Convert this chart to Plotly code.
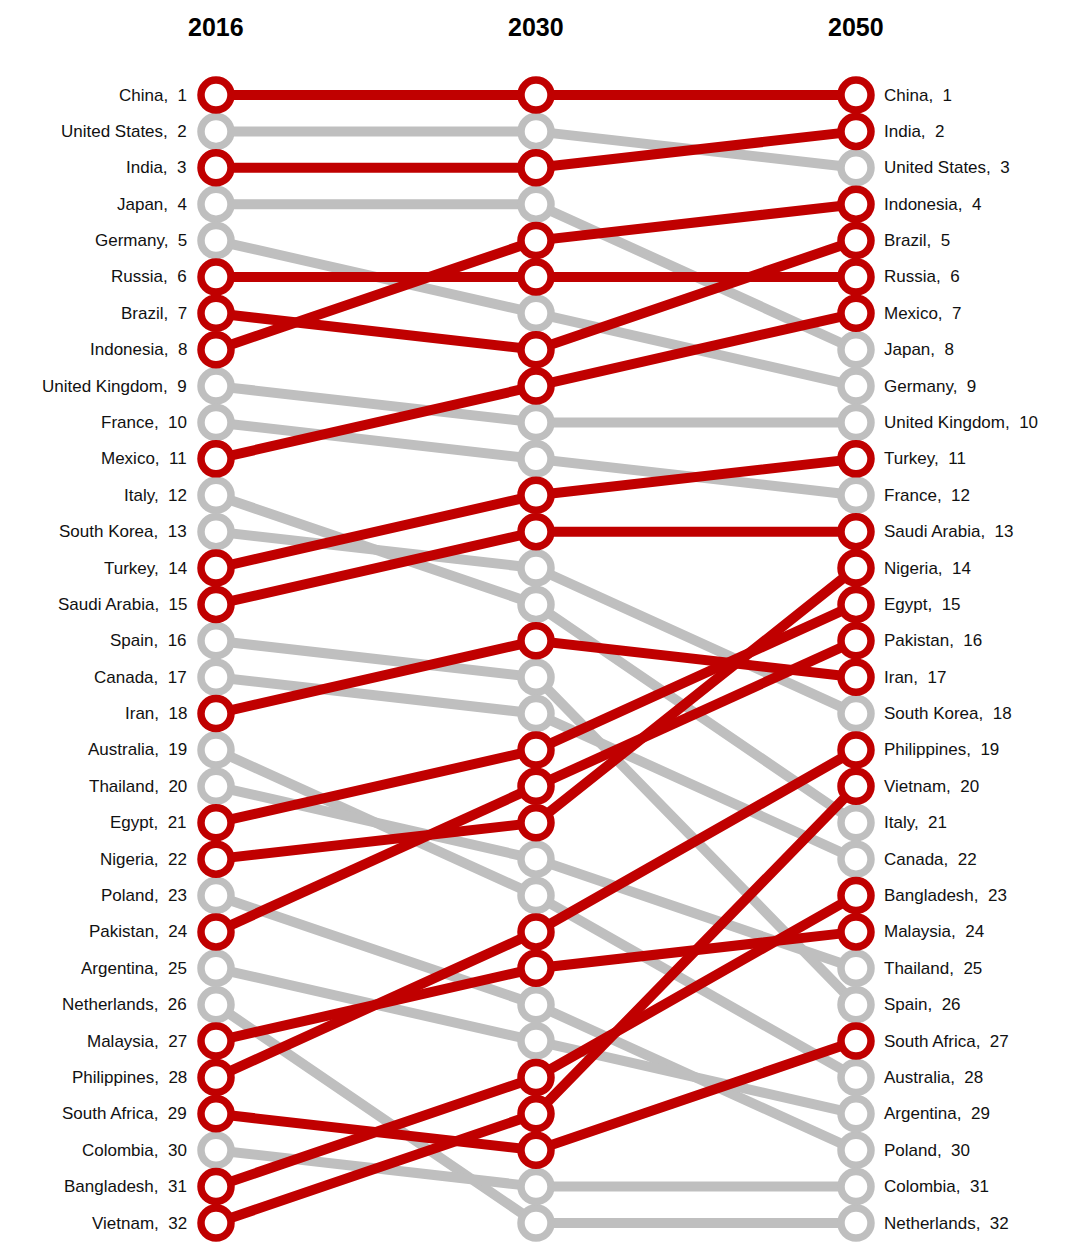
import plotly.graph_objects as go

# ---- data ----
countries = ["China", "United States", "India", "Japan", "Germany", "Russia", "Brazil",
             "Indonesia", "United Kingdom", "France", "Mexico", "Italy", "South Korea",
             "Turkey", "Saudi Arabia", "Spain", "Canada", "Iran", "Australia", "Thailand",
             "Egypt", "Nigeria", "Poland", "Pakistan", "Argentina", "Netherlands",
             "Malaysia", "Philippines", "South Africa", "Colombia", "Bangladesh", "Vietnam"]
rank_2016 = [1, 2, 3, 4, 5, 6, 7, 8, 9, 10, 11, 12, 13, 14, 15, 16,
             17, 18, 19, 20, 21, 22, 23, 24, 25, 26, 27, 28, 29, 30, 31, 32]
rank_2030 = [1, 2, 3, 4, 7, 6, 8, 5, 10, 11, 9, 15, 14, 12, 13, 17,
             18, 16, 23, 22, 19, 21, 26, 20, 27, 32, 25, 24, 30, 31, 28, 29]
rank_2050 = [1, 3, 2, 8, 9, 6, 5, 4, 10, 12, 7, 21, 18, 11, 13, 26,
             22, 17, 28, 25, 15, 14, 30, 16, 29, 32, 24, 19, 27, 31, 23, 20]
highlight = [1, 0, 1, 0, 0, 1, 1, 1, 0, 0, 1, 0, 0, 1, 1, 0,
             0, 1, 0, 0, 1, 1, 0, 1, 0, 0, 1, 1, 1, 0, 1, 1]
years = ["2016", "2030", "2050"]

RED = "#C00000"
GRAY = "#BFBFBF"

W, H = 1079, 1251
OFF = 8  # page body margin
x_px0, x_step = 216 - OFF, 320
y_px1, y_px32 = 95 - OFF, 1223 - OFF
y_step = (y_px32 - y_px1) / 31

fig = go.Figure()

cols = [0, 1, 2]
# lines: gray first, red on top
for hl_pass in (0, 1):
    for i, c in enumerate(countries):
        if highlight[i] != hl_pass:
            continue
        fig.add_trace(go.Scatter(
            x=cols, y=[rank_2016[i], rank_2030[i], rank_2050[i]],
            mode="lines", line=dict(color=RED if hl_pass else GRAY, width=10),
            hoverinfo="skip", showlegend=False))

# markers
for hl_pass in (0, 1):
    xs, ys = [], []
    for i, c in enumerate(countries):
        if highlight[i] != hl_pass:
            continue
        for col, r in zip(cols, (rank_2016[i], rank_2030[i], rank_2050[i])):
            xs.append(col)
            ys.append(r)
    fig.add_trace(go.Scatter(
        x=xs, y=ys, mode="markers",
        marker=dict(size=30, color="white", symbol="circle",
                    line=dict(color=RED if hl_pass else GRAY, width=7.5)),
        hoverinfo="skip", showlegend=False))

font = dict(family="Liberation Sans, Arial, sans-serif", size=17, color="#111111")
annotations = []
for i, c in enumerate(countries):
    annotations.append(dict(x=0, y=rank_2016[i], xref="x", yref="y",
                             text=f"{c},\u00a0\u00a0{rank_2016[i]}", showarrow=False,
                             xanchor="right", yanchor="middle", xshift=-27, font=font))
    annotations.append(dict(x=2, y=rank_2050[i], xref="x", yref="y",
                             text=f"{c},\u00a0\u00a0{rank_2050[i]}", showarrow=False,
                             xanchor="left", yanchor="middle", xshift=26, font=font))
header_y = 1 + ((27 - OFF) - y_px1) / y_step
for col, yr in zip(cols, years):
    annotations.append(dict(x=col, y=header_y, xref="x", yref="y", text=f"<b>{yr}</b>",
                            showarrow=False, xanchor="center", yanchor="middle",
                            font=dict(family="Liberation Sans, Arial, sans-serif",
                                      size=25, color="#000000")))

x_range = [-x_px0 / x_step, (W - x_px0) / x_step]
y_range = [32 + (H - y_px32) / y_step, 1 - y_px1 / y_step]

fig.update_layout(
    width=W, height=H,
    margin=dict(l=0, r=0, t=0, b=0),
    paper_bgcolor="white", plot_bgcolor="white",
    xaxis=dict(range=x_range, visible=False, fixedrange=True),
    yaxis=dict(range=y_range, visible=False, fixedrange=True),
    annotations=annotations,
    showlegend=False,
)

fig.write_html("out.html")
